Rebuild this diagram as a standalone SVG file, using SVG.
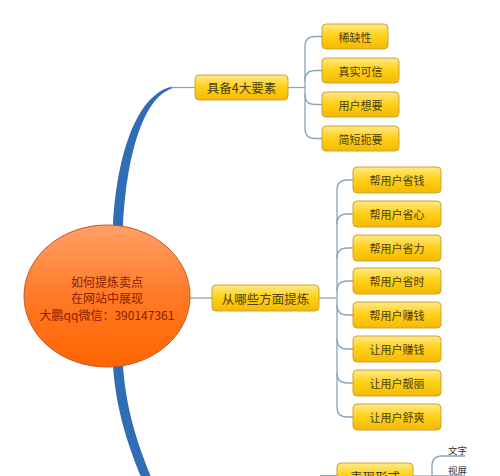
<svg xmlns="http://www.w3.org/2000/svg" width="500" height="476" viewBox="0 0 500 476">
<defs>
<linearGradient id="gy" x1="0" y1="0" x2="0" y2="1">
<stop offset="0" stop-color="#ffe98a"/>
<stop offset="0.45" stop-color="#ffd21a"/>
<stop offset="1" stop-color="#f6b800"/>
</linearGradient>
<linearGradient id="go" x1="0" y1="0" x2="0" y2="1">
<stop offset="0" stop-color="#ffa066"/>
<stop offset="0.5" stop-color="#ff7a26"/>
<stop offset="1" stop-color="#ff6400"/>
</linearGradient>
</defs>
<style>
.n rect{fill:url(#gy);stroke:#c9a43c;stroke-width:1}
.n text{font-family:"Noto Sans CJK SC","Liberation Sans",sans-serif;fill:#4a3e10;text-anchor:middle;dominant-baseline:central}
.l1 text{font-size:12.5px}
.l2 text{font-size:11px}
.c{fill:none;stroke:#8aa4b8;stroke-width:1.3}
.thick{fill:#2f6db5}
.leaf{font-family:"Noto Sans CJK SC","Liberation Sans",sans-serif;font-size:9.5px;fill:#333}
.root text{font-family:"Noto Sans CJK SC","Liberation Sans",sans-serif;font-size:12px;fill:#8a1c00;text-anchor:middle;dominant-baseline:central}
</style>
<rect width="500" height="476" fill="#fff"/>
<g id="connectors">
<path class="thick" d="M113,227 C116,160 135,95 172,86.5 L172,88.5 C142,98 126,160 123,227 Z"/>
<path class="c" d="M171,87.5 H195"/>
<path class="thick" d="M113,366 C116,410 128,445 141,477 L151,477 C138,445 126,410 123,366 Z"/>
<path class="c" d="M190,298 H212"/>
<path class="c" d="M288,87.5 H305"/>
<path class="c" d="M322,36.5 H315 Q305,36.5 305,46.5 V128.5 Q305,138.5 315,138.5 H322"/>
<path class="c" d="M305,80.5 Q305,70.5 315,70.5 H322"/>
<path class="c" d="M305,94.5 Q305,104.5 315,104.5 H322"/>
<path class="c" d="M319,298 H337"/>
<path class="c" d="M353,180 H347 Q337,180 337,190 V407 Q337,417 347,417 H353"/>
<path class="c" d="M337,224 Q337,214 347,214 H353"/>
<path class="c" d="M337,258 Q337,248 347,248 H353"/>
<path class="c" d="M337,291 Q337,281 347,281 H353"/>
<path class="c" d="M337,305 Q337,315 347,315 H353"/>
<path class="c" d="M337,339 Q337,349 347,349 H353"/>
<path class="c" d="M337,373 Q337,383 347,383 H353"/>
<path class="c" d="M320,475.5 H337"/>
<path class="c" d="M413,476 H432"/>
<path class="c" d="M432,476 V466 Q432,456 442,456 H465"/>
<path class="c" d="M432,476 H465"/>
</g>
<g id="root" class="root">
<ellipse cx="107" cy="296" rx="83" ry="71" fill="url(#go)" stroke="#c8552a" stroke-width="1"/>
<text x="107" y="281">如何提炼卖点</text>
<text x="107" y="297.5">在网站中展现</text>
<text x="107" y="314">大鹏qq微信：390147361</text>
</g>
<g id="n-a" class="n l1"><rect x="195" y="75" width="93" height="25" rx="4"/><text x="241.5" y="87.5">具备4大要素</text></g>
<g id="n-a1" class="n l2"><rect x="322" y="24" width="66" height="25" rx="4"/><text x="355" y="36.5">稀缺性</text></g>
<g id="n-a2" class="n l2"><rect x="322" y="58" width="77" height="25" rx="4"/><text x="360.5" y="70.5">真实可信</text></g>
<g id="n-a3" class="n l2"><rect x="322" y="92" width="77" height="25" rx="4"/><text x="360.5" y="104.5">用户想要</text></g>
<g id="n-a4" class="n l2"><rect x="322" y="126" width="77" height="25" rx="4"/><text x="360.5" y="138.5">简短扼要</text></g>
<g id="n-b" class="n l1"><rect x="212" y="285" width="107" height="26" rx="4"/><text x="265.5" y="298">从哪些方面提炼</text></g>
<g id="n-b1" class="n l2"><rect x="353" y="167" width="88" height="26" rx="4"/><text x="397" y="180">帮用户省钱</text></g>
<g id="n-b2" class="n l2"><rect x="353" y="201" width="88" height="26" rx="4"/><text x="397" y="214">帮用户省心</text></g>
<g id="n-b3" class="n l2"><rect x="353" y="235" width="88" height="26" rx="4"/><text x="397" y="248">帮用户省力</text></g>
<g id="n-b4" class="n l2"><rect x="353" y="268" width="88" height="26" rx="4"/><text x="397" y="281">帮用户省时</text></g>
<g id="n-b5" class="n l2"><rect x="353" y="302" width="88" height="26" rx="4"/><text x="397" y="315">帮用户赚钱</text></g>
<g id="n-b6" class="n l2"><rect x="353" y="336" width="88" height="26" rx="4"/><text x="397" y="349">让用户赚钱</text></g>
<g id="n-b7" class="n l2"><rect x="353" y="370" width="88" height="26" rx="4"/><text x="397" y="383">让用户靓丽</text></g>
<g id="n-b8" class="n l2"><rect x="353" y="404" width="88" height="26" rx="4"/><text x="397" y="417">让用户舒爽</text></g>
<g id="n-c" class="n l1"><rect x="337" y="463" width="76" height="26" rx="4"/><text x="375" y="476">表现形式</text></g>
<g id="n-c1"><text class="leaf" x="448" y="454">文字</text></g>
<g id="n-c2"><text class="leaf" x="448" y="474">视屏</text></g>
</svg>
